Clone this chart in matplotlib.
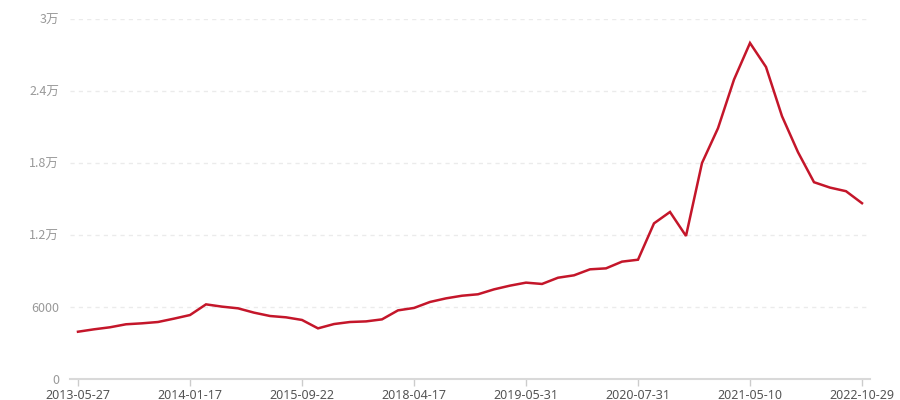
import matplotlib
matplotlib.use('Agg')
import matplotlib.pyplot as plt
from matplotlib.ticker import FuncFormatter, FixedLocator
import numpy as np

plt.rcParams['font.family'] = ['Noto Sans CJK SC', 'DejaVu Sans']

# values, one per period
values = [3940, 4140, 4310, 4560, 4640, 4750, 5030, 5330, 6220, 6030,
          5890, 5530, 5250, 5140, 4920, 4220, 4580, 4750, 4800, 4970,
          5720, 5920, 6420, 6720, 6940, 7060, 7470, 7780, 8030, 7920,
          8440, 8640, 9140, 9220, 9780, 9940, 12970, 13920, 11920, 18000,
          20900, 24950, 28000, 26000, 21900, 18900, 16400, 15950, 15650, 14650]
tick_labels = ['2013-05-27', '2014-01-17', '2015-09-22', '2018-04-17',
               '2019-05-31', '2020-07-31', '2021-05-10', '2022-10-29']
tick_step = 7
y_ticks = [0, 6000, 12000, 18000, 24000, 30000]


def wan(v, pos=None):
    if v >= 10000:
        return '{:g}万'.format(v / 10000)
    return '{:d}'.format(int(v))


def main():
    fig = plt.figure(figsize=(9, 4), dpi=100)
    ax = fig.add_axes([70 / 900, 21 / 400, 800 / 900, 360 / 400])

    x = np.arange(len(values))
    ax.plot(x, values, color='#c4162a', linewidth=1.8, solid_joinstyle='miter')

    ax.set_xlim(-0.5, len(values) - 0.5)
    ax.set_ylim(0, 30000)

    ax.xaxis.set_major_locator(FixedLocator(list(range(0, len(values), tick_step))))
    ax.set_xticklabels(tick_labels, family=['Noto Sans', 'DejaVu Sans'])
    ax.yaxis.set_major_locator(FixedLocator(y_ticks))
    ax.yaxis.set_major_formatter(FuncFormatter(wan))

    ax.tick_params(axis='x', length=5, width=1, color='#cccccc', labelcolor='#555555',
                   labelsize=9, pad=2)
    ax.tick_params(axis='y', length=0, labelcolor='#999999', labelsize=9, pad=8)

    for t in y_ticks[1:]:
        ax.axhline(t, color='#ebebeb', linewidth=1, linestyle=(0, (3, 3)), zorder=0)

    for s in ['top', 'right', 'left']:
        ax.spines[s].set_visible(False)
    ax.spines['bottom'].set_color('#d9d9d9')
    ax.spines['bottom'].set_linewidth(1.5)

    fig.savefig('out.png', dpi=100)
    plt.close(fig)


if __name__ == '__main__':
    main()
